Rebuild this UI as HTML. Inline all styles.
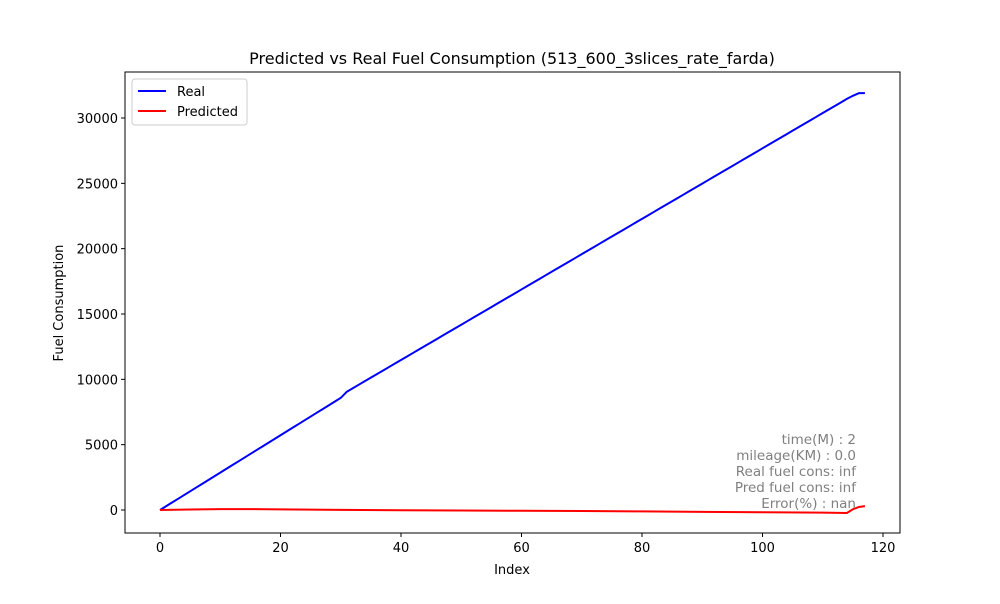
<!DOCTYPE html>
<html><head><meta charset="utf-8"><style>
body{margin:0;background:#fff;font-family:"DejaVu Sans","Liberation Sans",sans-serif}
svg text{font-family:"DejaVu Sans","Liberation Sans",sans-serif}
</style></head><body>
<svg id="c" width="1000" height="600" xmlns="http://www.w3.org/2000/svg">
<rect width="1000" height="600" fill="#fff"/>
<text x="512" y="64" text-anchor="middle" font-size="16">Predicted vs Real Fuel Consumption (513_600_3slices_rate_farda)</text>
<g id="plot"></g>
<text x="512" y="574" text-anchor="middle" font-size="13">Index</text>
<text x="63" y="303" text-anchor="middle" font-size="13" transform="rotate(-90 63 303)">Fuel Consumption</text>
<g font-size="13.5" fill="#808080" text-anchor="end">
<text x="856" y="444">time(M) : 2</text>
<text x="856" y="460">mileage(KM) : 0.0</text>
<text x="856" y="476">Real fuel cons: inf</text>
<text x="856" y="492">Pred fuel cons: inf</text>
<text x="856" y="508">Error(%) : nan</text>
</g>
<g>
<rect x="132" y="79" width="115" height="46" fill="#fff" stroke="#ccc" rx="3"/>
<line x1="138" y1="91" x2="166" y2="91" stroke="#0000ff" stroke-width="2"/>
<text x="177" y="96" font-size="13">Real</text>
<line x1="138" y1="111" x2="166" y2="111" stroke="#ff0000" stroke-width="2"/>
<text x="177" y="116" font-size="13">Predicted</text>
</g>
</svg>
<script>
const realVals=[0,286,572,858,1144,1430,1716,2002,2288,2574,2860,3146,3432,3718,4004,4290,4576,4862,5148,5434,5720,6006,6292,6578,6864,7150,7436,7722,8008,8294,8580,
9050,9320,9590,9860,10130,10400,10670,10940,11210,11480,11750,12020,12290,12560,12830,13100,13370,13640,13910,14180,14450,14720,14990,15260,15530,15800,16070,16340,16610,16880,17150,17420,17690,17960,18230,18500,18770,19040,19310,19580,19850,20120,20390,20660,20930,21200,21470,21740,22010,22280,22550,22820,23090,23360,23630,23900,24170,24440,24710,24980,25250,25520,25790,26060,26330,26600,26870,27140,27410,27680,27950,28220,28490,28760,29030,29300,29570,29840,30110,30380,30650,30920,31190,31460,31700,31900,31900];
const predIdx=[0,5,10,15,20,30,40,50,60,70,80,90,100,110,114,115,116,117];
const predVals=[0,40,70,70,50,10,-20,-40,-60,-80,-110,-140,-170,-200,-230,60,230,300];
const xTicks=[0,20,40,60,80,100,120];
const yTicks=[0,5000,10000,15000,20000,25000,30000];
const L=125,R=900,T=72,B=533;
const X=v=>160+v*(120.5/20);
const Y=v=>510-v*(392/30000);
const ns="http://www.w3.org/2000/svg";
const g=document.getElementById('plot');
function mk(t,a){const e=document.createElementNS(ns,t);for(const k in a)e.setAttribute(k,a[k]);g.appendChild(e);return e;}
xTicks.forEach(t=>{
 const l=mk('line',{x1:X(t),x2:X(t),y1:B,y2:B+4,stroke:'#000'});
 
 
 const tx=mk('text',{x:X(t),y:B+19,'text-anchor':'middle','font-size':13});
 tx.textContent=t;
 
 
});
yTicks.forEach(t=>{
 const l=mk('line',{x1:L-4,x2:L,y1:Y(t),y2:Y(t),stroke:'#000'});
 
 
 const tx=mk('text',{x:L-7,y:Y(t)+5,'text-anchor':'end','font-size':13});
 tx.textContent=t;
 
 
});
const rp=mk('polyline',{points:realVals.map((v,i)=>X(i)+','+Y(v)).join(' '),fill:'none',stroke:'#0000ff','stroke-width':2});


const pp=mk('polyline',{points:predVals.map((v,i)=>X(predIdx[i])+','+Y(v)).join(' '),fill:'none',stroke:'#ff0000','stroke-width':2});


const fr=mk('rect',{x:L,y:T,width:R-L,height:B-T,fill:'none',stroke:'#000','stroke-width':1});


</script>
</body></html>
